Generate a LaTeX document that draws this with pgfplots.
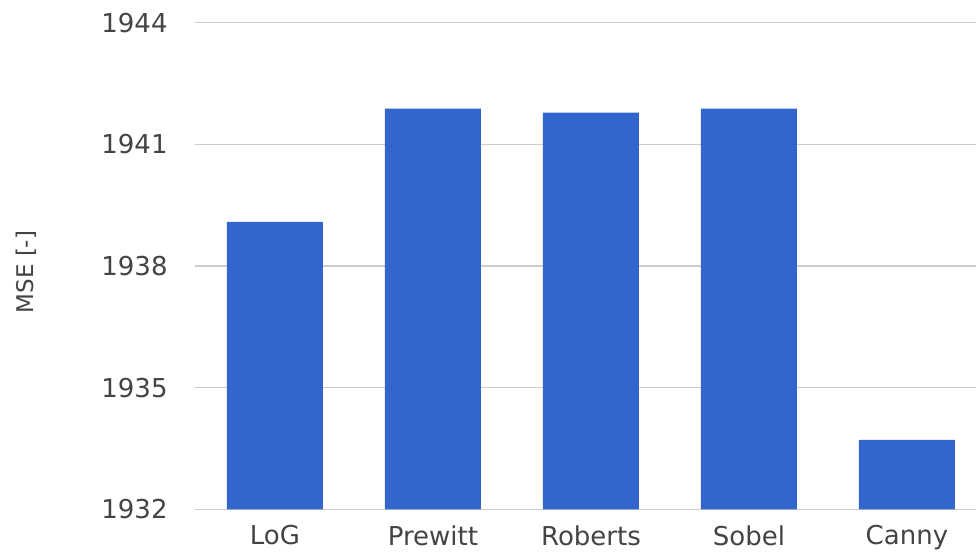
\documentclass[border=0pt]{standalone}
\usepackage{pgfplots}
\pgfplotsset{compat=1.18}
\usepackage{fontspec}
\setmainfont{DejaVu Sans}
\definecolor{barblue}{HTML}{3366CC}
\definecolor{gridgray}{HTML}{CCCCCC}
\definecolor{labelgray}{HTML}{444444}
\begin{document}
\begin{tikzpicture}
\begin{axis}[
  name=main,
  at={(0,0)}, anchor=south west,
  scale only axis,
  width=390.5pt, height=243.3pt,
  ybar, bar width=48pt,
  xmin=-0.506, xmax=4.437,
  ymin=1932, ymax=1944,
  ytick={1932,1935,1938,1941,1944},
  xtick={0,1,2,3,4},
  xticklabels={LoG,Prewitt,Roberts,Sobel,Canny},
  ymajorgrids,
  grid style={gridgray, line width=0.7pt},
  axis line style={draw=none},
  tick style={draw=none},
  major tick length=0pt,
  /pgf/number format/assume math mode=true,
  /pgf/number format/1000 sep={},
  yticklabel style={font=\fontsize{13}{15}\selectfont, text=labelgray, inner sep=0pt, anchor=east, xshift=-13.5pt},
  xticklabel style={font=\fontsize{13}{15}\selectfont, text=labelgray, inner sep=0pt, anchor=north, yshift=-8pt},
  ylabel={MSE [-]},
  ylabel style={font=\fontsize{11.5}{13}\selectfont, text=labelgray, at={(rel axis cs:0,0.5)}, anchor=center, xshift=-3pt, yshift=84.5pt},
]
\addplot[fill=barblue, draw=none] coordinates {
  (0,1939.09)
  (1,1941.88)
  (2,1941.78)
  (3,1941.88)
  (4,1933.71)
};
\end{axis}
\pgfresetboundingbox
\path[use as bounding box] (-97.5pt,-23.85pt) rectangle (390.5pt,254.65pt);
\end{tikzpicture}
\end{document}
